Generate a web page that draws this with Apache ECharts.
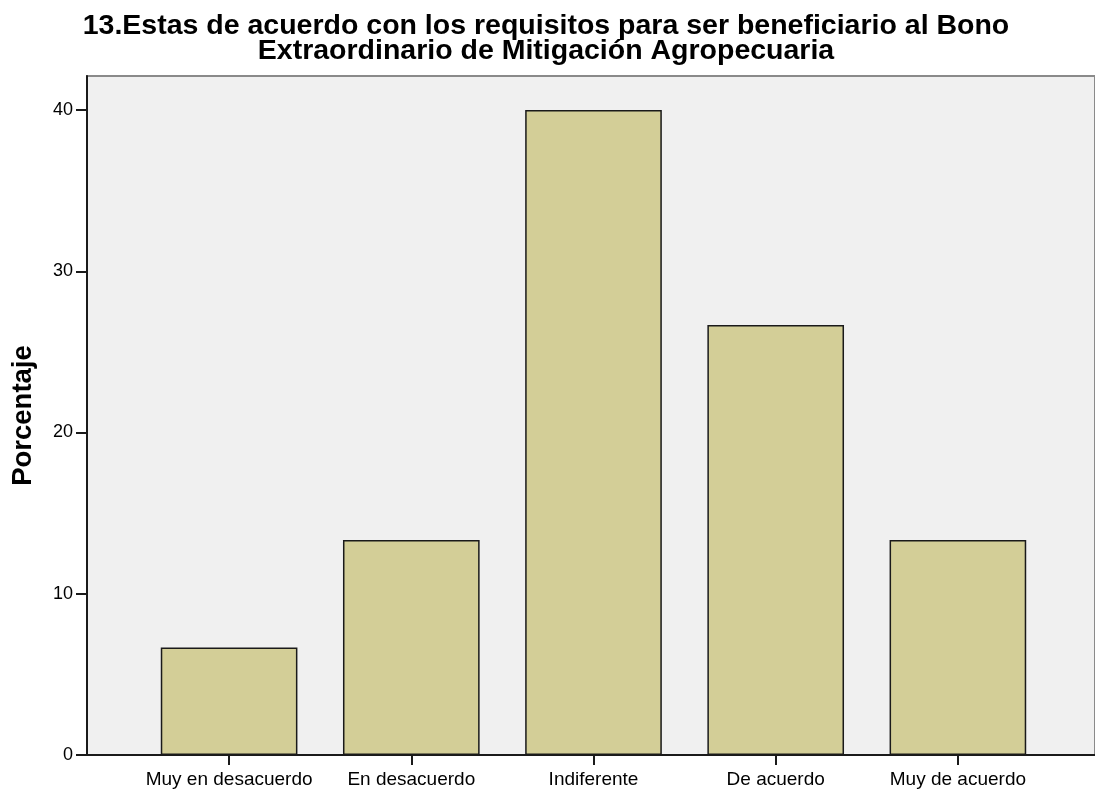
<!DOCTYPE html>
<html>
<head>
<meta charset="utf-8">
<script src="https://cdn.jsdelivr.net/npm/echarts@6/dist/echarts.min.js"></script>
<style>
html,body{margin:0;padding:0;background:#fff;}
#chart{width:1095px;height:794px;}
</style>
</head>
<body>
<div id="chart"></div>
<script>
const titleLines = ['13.Estas de acuerdo con los requisitos para ser beneficiario al Bono', 'Extraordinario de Mitigación Agropecuaria'];
const categories = ['Muy en desacuerdo', 'En desacuerdo', 'Indiferente', 'De acuerdo', 'Muy de acuerdo'];
const percentages = [6.67, 13.33, 40, 26.67, 13.33];
const yAxisName = 'Porcentaje';

const FONT = "'Liberation Sans', Arial, sans-serif";
const chart = echarts.init(document.getElementById('chart'), null, {renderer: 'canvas'});
chart.setOption({
  animation: false,
  backgroundColor: '#ffffff',
  title: {
    text: titleLines.join('\n'),
    left: 546,
    textAlign: 'center',
    top: 14,
    padding: 0,
    textStyle: {fontFamily: FONT, fontSize: 28.5, fontWeight: 'bold', color: '#000', lineHeight: 25}
  },
  grid: [
    {left: 87, right: -3, top: 76, bottom: 39, show: true, backgroundColor: '#F0F0F0', borderColor: '#8a8a8a', borderWidth: 2},
    {left: 138, right: 46, top: 110, bottom: 39}
  ],
  xAxis: [
    {gridIndex: 0, type: 'value', min: 0, max: 1,
     axisLine: {show: true, lineStyle: {color: '#1a1a1a', width: 2}},
     axisTick: {show: false}, axisLabel: {show: false}, splitLine: {show: false}},
    {gridIndex: 1, type: 'category', data: categories,
     axisLine: {show: false},
     axisTick: {show: true, alignWithLabel: true, length: 10, lineStyle: {color: '#1a1a1a', width: 2}},
     axisLabel: {interval: 0, fontFamily: FONT, fontSize: 19, color: '#000', margin: 15},
     splitLine: {show: false}}
  ],
  yAxis: [
    {gridIndex: 0, type: 'value', min: 0, max: 1,
     name: yAxisName, nameLocation: 'middle', nameGap: 50,
     nameTextStyle: {fontFamily: FONT, fontSize: 27.5, fontWeight: 'bold', color: '#000'},
     axisLine: {show: true, lineStyle: {color: '#1a1a1a', width: 2}},
     axisTick: {show: false}, axisLabel: {show: false}, splitLine: {show: false}},
    {gridIndex: 1, type: 'value', min: 0, max: 40, interval: 10, offset: 51,
     axisLine: {show: false},
     axisTick: {show: true, length: 11, lineStyle: {color: '#1a1a1a', width: 2}},
     axisLabel: {fontFamily: FONT, fontSize: 18, color: '#000', margin: 14},
     splitLine: {show: false}}
  ],
  series: [{
    type: 'bar',
    xAxisIndex: 1, yAxisIndex: 1,
    data: percentages,
    barCategoryGap: '25%',
    itemStyle: {color: '#D3CE97', borderColor: '#1a1a1a', borderWidth: 1.5}
  }]
});
</script>
</body>
</html>
